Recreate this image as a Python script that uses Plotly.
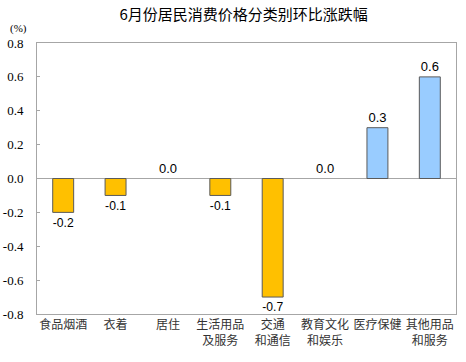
import plotly.graph_objects as go

categories = ["食品烟酒", "衣着", "居住", "生活用品<br>及服务", "交通<br>和通信", "教育文化<br>和娱乐", "医疗保健", "其他用品<br>和服务"]
values = [-0.2, -0.1, 0.0, -0.1, -0.7, 0.0, 0.3, 0.6]
labels = ["-0.2", "-0.1", "0.0", "-0.1", "-0.7", "0.0", "0.3", "0.6"]
y_ticks = [-0.8, -0.6, -0.4, -0.2, 0.0, 0.2, 0.4, 0.6, 0.8]
y_ticktext = ["-0.8", "-0.6", "-0.4", "-0.2", "0.0", "0.2", "0.4", "0.6", "0.8"]
title = "6月份居民消费价格分类别环比涨跌幅"

colors = ["#99CCFF" if v > 0 else "#FFC000" for v in values]
line_widths = [0 if v == 0 else 1 for v in values]

fig = go.Figure()
fig.add_trace(go.Bar(
    x=categories, y=values, width=0.4,
    marker=dict(color=colors, line=dict(color="#5a5a5a", width=line_widths)),
    text=labels, textposition="outside", cliponaxis=False,
    textfont=dict(family="Liberation Sans", size=13, color="#000"),
))

fig.update_layout(
    width=466, height=362,
    margin=dict(l=37, r=10, t=43, b=48, autoexpand=False),
    plot_bgcolor="white", paper_bgcolor="white",
    showlegend=False,
    title=dict(text=title, x=0.523, xanchor="center", y=0.958, yanchor="middle",
               font=dict(family="Noto Sans CJK SC", size=15, color="#000")),
)
fig.update_yaxes(range=[-0.8, 0.8], tickvals=y_ticks, ticktext=y_ticktext, automargin=False,
                 showgrid=False, zeroline=True, zerolinecolor="#A6A6A6", zerolinewidth=1,
                 showline=True, linecolor="#A6A6A6", linewidth=1, mirror=True,
                 ticks="inside", ticklen=3, tickcolor="#A6A6A6", ticklabelstandoff=10,
                 tickfont=dict(family="Liberation Serif, serif", size=13, color="#000"))
fig.update_xaxes(showgrid=False, showline=True, linecolor="#A6A6A6", linewidth=1, mirror=True,
                 automargin=False, ticks="",
                 tickfont=dict(family="Noto Sans CJK SC", size=12, color="#333"))

fig.add_annotation(text="(%)", xref="paper", yref="paper", x=-0.045, y=1.0, yshift=15,
                   xanchor="center", yanchor="middle", showarrow=False,
                   font=dict(family="Liberation Serif, serif", size=11, color="#000"))

fig.write_html("out.html", config={"responsive": False, "displayModeBar": False},
               post_script="document.body.style.margin='0';document.body.style.overflow='hidden';")
